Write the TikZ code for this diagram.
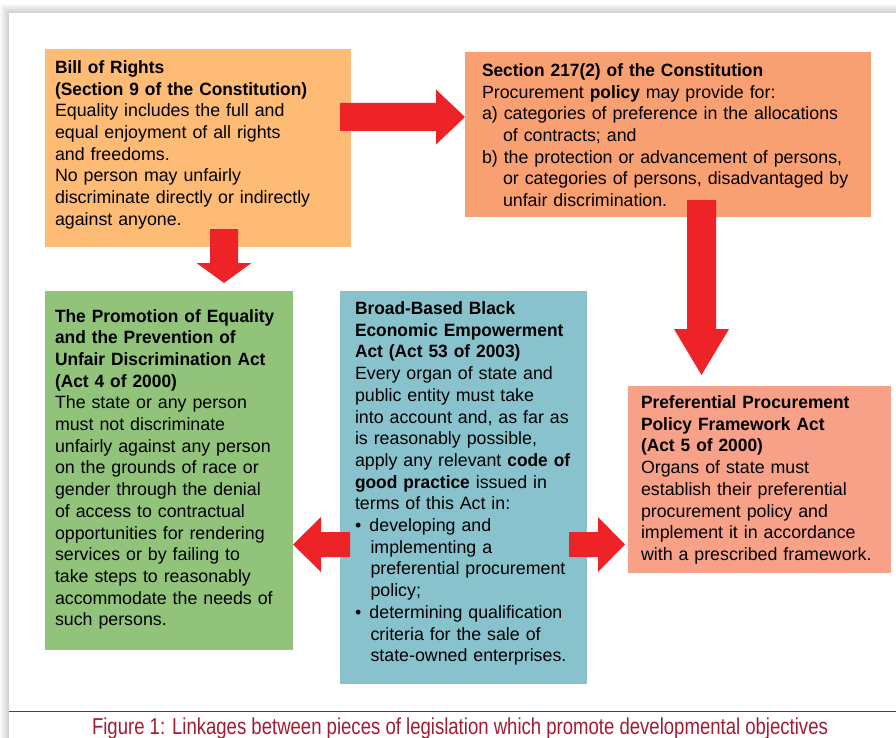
\documentclass[tikz,border=0pt]{standalone}
\usepackage{fontspec}
\setmainfont{Liberation Sans}[BoldFeatures={FakeStretch=0.975}]
\usepackage{graphicx}
\usetikzlibrary{calc}
\definecolor{boxA}{RGB}{253,187,117}
\definecolor{boxB}{RGB}{249,160,114}
\definecolor{boxC}{RGB}{146,195,123}
\definecolor{boxD}{RGB}{136,194,205}
\definecolor{boxE}{RGB}{247,161,137}
\definecolor{arrred}{RGB}{237,35,39}
\definecolor{capred}{RGB}{160,28,52}
\setlength{\parindent}{0pt}
\begin{document}
\begin{tikzpicture}[x=1pt,y=-1pt,
  box/.style={draw=none, inner sep=0pt, outer sep=0pt, anchor=north west},
  txt/.style={anchor=north west, inner sep=0pt, outer sep=0pt, text width=420pt, align=left, font=\fontsize{17.8}{21.7}\selectfont},
  blockarrow/.style={fill=arrred}]
\useasboundingbox (0,0) rectangle (896,738);
\fill[white] (0,0) rectangle (896,738);
\foreach \i in {1,...,9} \fill[black,opacity=0.02] ({9-\i},{13-\i}) rectangle (900,745);
\fill[white] (9,13) rectangle (900,745);

% boxes
\node[box, fill=boxA, minimum width=306pt, minimum height=198pt] (b1) at (45,49) {};
\node[box, fill=boxB, minimum width=406pt, minimum height=165pt] (b2) at (465,52) {};
\node[box, fill=boxC, minimum width=248pt, minimum height=359pt] (b3) at (45,291) {};
\node[box, fill=boxD, minimum width=247pt, minimum height=393pt] (b4) at (340,291) {};
\node[box, fill=boxE, minimum width=263pt, minimum height=187pt] (b5) at (628,386) {};

% texts
\node[txt] (t1) at (55,58.5) {\rule{0pt}{15pt}\textbf{Bill of Rights}\\
\textbf{(Section 9 of the Constitution)}\\
Equality includes the full and\\
equal enjoyment of all rights\\
and freedoms.\\
No person may unfairly\\
discriminate directly or indirectly\\
against anyone.};

\node[txt] (t2) at (482,61.5) {\rule{0pt}{15pt}\textbf{Section 217(2) of the Constitution}\\
Procurement \textbf{policy} may provide for:\\
a) categories of preference in the allocations\\
\hspace*{21pt}of contracts; and\\
b) the protection or advancement of persons,\\
\hspace*{21pt}or categories of persons, disadvantaged by\\
\hspace*{21pt}unfair discrimination.};

\node[txt] (t3) at (55,307) {\rule{0pt}{15pt}\textbf{The Promotion of Equality}\\
\textbf{and the Prevention of}\\
\textbf{Unfair Discrimination Act}\\
\textbf{(Act 4 of 2000)}\\
The state or any person\\
must not discriminate\\
unfairly against any person\\
on the grounds of race or\\
gender through the denial\\
of access to contractual\\
opportunities for rendering\\
services or by failing to\\
take steps to reasonably\\
accommodate the needs of\\
such persons.};

\node[txt] (t4) at (355,299.5) {\rule{0pt}{15pt}\textbf{Broad-Based Black}\\
\textbf{Economic Empowerment}\\
\textbf{Act (Act 53 of 2003)}\\
Every organ of state and\\
public entity must take\\
into account and, as far as\\
is reasonably possible,\\
apply any relevant \textbf{code of}\\
\textbf{good practice} issued in\\
terms of this Act in:\\
\makebox[14.5pt][l]{•}developing and\\
\hspace*{15.5pt}implementing a\\
\hspace*{15.5pt}preferential procurement\\
\hspace*{15.5pt}policy;\\
\makebox[14.5pt][l]{•}determining qualification\\
\hspace*{15.5pt}criteria for the sale of\\
\hspace*{15.5pt}state-owned enterprises.};

\node[txt] (t5) at (641,393.5) {\rule{0pt}{15pt}\textbf{Preferential Procurement}\\
\textbf{Policy Framework Act}\\
\textbf{(Act 5 of 2000)}\\
Organs of state must\\
establish their preferential\\
procurement policy and\\
implement it in accordance\\
with a prescribed framework.};

% block arrows
\coordinate (a1) at (340,117);
\coordinate (a2) at (224,229);
\coordinate (a3) at (701.5,200);
\coordinate (a4) at (350,544.5);
\coordinate (a5) at (569,544.5);
\fill[blockarrow, shift={(a1)}] (0,-14) -- (96,-14) -- (96,-27.5) -- (125,0) -- (96,27.5) -- (96,14) -- (0,14) -- cycle;
\fill[blockarrow, shift={(a2)}] (-14,0) -- (-14,34) -- (-27.5,34) -- (0,54) -- (27.5,34) -- (14,34) -- (14,0) -- cycle;
\fill[blockarrow, shift={(a3)}] (-14.5,0) -- (-14.5,129) -- (-27.5,129) -- (0,175) -- (27.5,129) -- (14.5,129) -- (14.5,0) -- cycle;
\fill[blockarrow, shift={(a4)}] (0,-12.5) -- (-29,-12.5) -- (-29,-27.5) -- (-57,0) -- (-29,27.5) -- (-29,12.5) -- (0,12.5) -- cycle;
\fill[blockarrow, shift={(a5)}] (0,-12.5) -- (29,-12.5) -- (29,-27.5) -- (56,0) -- (29,27.5) -- (29,12.5) -- (0,12.5) -- cycle;

% caption
\draw[capred, line width=1.5pt] (9,711.7) -- (896,711.7);
\node[anchor=base, inner sep=0pt, text=capred] (cap) at (460,734.5) {\resizebox{736pt}{\height}{\fontsize{23}{23}\selectfont Figure 1: Linkages between pieces of legislation which promote developmental objectives}};
\end{tikzpicture}
\end{document}
